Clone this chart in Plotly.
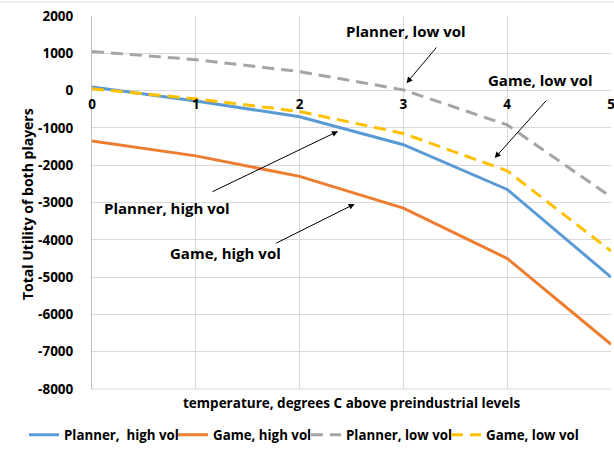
import plotly.graph_objects as go

temps = [0, 1, 2, 3, 4, 5]
tick_labels = ["0", "1", "2", "3", "4", "5"]
y_tick_vals = [2000, 1000, 0, -1000, -2000, -3000, -4000, -5000, -6000, -7000, -8000]
y_tick_labels = ["2000", "1000", "0", "-1000", "-2000", "-3000", "-4000",
                 "-5000", "-6000", "-7000", "-8000"]
planner_high = [100, -280, -700, -1450, -2650, -5000]
game_high = [-1350, -1750, -2300, -3150, -4500, -6800]
planner_low = [1050, 830, 510, 20, -920, -2850]
game_low = [50, -220, -560, -1150, -2150, -4300]

FONT = "Open Sans"
W, H = 614, 452
ML, MR, MT, MB = 92, 3, 16, 63
PW, PH = W - ML - MR, H - MT - MB

series = [
    ("Planner,  high vol", planner_high, dict(color="#5B9BD5", width=3), "legend", 66),
    ("Game, high vol", game_high, dict(color="#ED7D31", width=3), "legend2", 215),
    ("Planner, low vol", planner_low, dict(color="#A5A5A5", width=3, dash="12px,7px"), "legend3", 348),
    ("Game, low vol", game_low, dict(color="#FFC000", width=3, dash="12px,7px"), "legend4", 488),
]

fig = go.Figure()
legend_layout = {}
for name, vals, line, leg, text_x in series:
    fig.add_trace(go.Scatter(x=temps, y=vals, mode="lines", name=name, line=line, legend=leg))
    legend_layout[leg] = dict(orientation="h", xref="container", x=(text_x - 42) / W,
                              xanchor="left", yref="container", y=1 - 435 / H,
                              yanchor="middle", bgcolor="rgba(0,0,0,0)",
                              font=dict(family=FONT, size=13.3, color="#000", weight="bold"))

fig.update_layout(
    width=W, height=H,
    margin=dict(l=ML, r=MR, t=MT, b=MB, autoexpand=False),
    paper_bgcolor="white", plot_bgcolor="white",
    font=dict(family=FONT, size=13, color="#000"),
    showlegend=True,
    xaxis=dict(range=[0, 5], tickvals=temps, ticktext=tick_labels,
               showgrid=True, gridcolor="#D9D9D9", gridwidth=1,
               showline=False, zeroline=False, automargin=False,
               anchor="free", position=0.8, ticklabeloverflow="allow",
               tickfont=dict(family=FONT, size=13.5, weight="bold"),
               ticks="", ticklabelstandoff=4),
    yaxis=dict(range=[-8000, 2000], tickvals=y_tick_vals, ticktext=y_tick_labels,
               domain=[0, 1], automargin=False,
               showgrid=True, gridcolor="#D9D9D9", gridwidth=1,
               zeroline=True, zerolinecolor="#D9D9D9", zerolinewidth=1,
               showline=True, linecolor="#BFBFBF", linewidth=1,
               tickfont=dict(family=FONT, size=13.5, weight="bold"),
               ticks="", ticklabelstandoff=15),
    **legend_layout,
)

# axis titles
fig.add_annotation(text="temperature, degrees C above preindustrial levels",
                   xref="paper", yref="paper", x=0.5, y=(H - MB - 403) / PH, yanchor="middle",
                   showarrow=False, font=dict(family=FONT, size=13.5, weight="bold"))
fig.add_annotation(text="Total Utility of both players", textangle=-90,
                   xref="paper", yref="paper", x=(27 - ML) / PW, xanchor="center",
                   y=(H - MB - 204) / PH, yanchor="middle",
                   showarrow=False, font=dict(family=FONT, size=14, weight="bold"))
# bottom border of plot area and chart-area top border
fig.add_shape(type="line", xref="paper", yref="paper", x0=0, x1=1, y0=0, y1=0,
              line=dict(color="#D9D9D9", width=1))
fig.add_shape(type="line", xref="paper", yref="paper", x0=-ML / PW, x1=1 + MR / PW,
              y0=1 + (MT - 2) / PH, y1=1 + (MT - 2) / PH,
              line=dict(color="#E0E0E0", width=1))

labels = [
    ("Planner, low vol", 3.025, 1606, 3.33, 1196, 3.03, 200),
    ("Game, low vol", 4.316, 284, 4.39, -225, 3.88, -1807),
    ("Planner, high vol", 0.72, -3148, 1.146, -2730, 2.37, -1090),
    ("Game, high vol", 1.286, -4354, 1.76, -4110, 2.53, -3040),
]
for txt, tx, ty, ax0, ay0, hx, hy in labels:
    fig.add_annotation(text=txt, x=tx, y=ty, showarrow=False,
                       font=dict(family=FONT, size=15, weight="bold", color="#000"))
    fig.add_annotation(text="", x=hx, y=hy, ax=ax0, ay=ay0, axref="x", ayref="y",
                       showarrow=True, arrowhead=2, arrowsize=1.2, arrowwidth=1,
                       arrowcolor="#000")

fig.write_html("out.html", config={"displayModeBar": False},
               post_script="document.body.style.margin='0';document.body.style.padding='0';"
                           "window.dispatchEvent(new Event('resize'));")
